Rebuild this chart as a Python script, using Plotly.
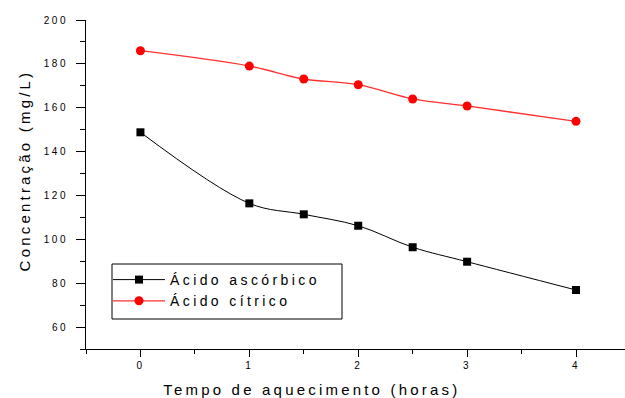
import plotly.graph_objects as go

# ---- data ----
tempo = [0, 1, 1.5, 2, 2.5, 3, 4]
acido_ascorbico = [148.8, 116.4, 111.4, 106.2, 96.4, 89.8, 76.9]
acido_citrico = [186.0, 179.0, 173.1, 170.5, 164.0, 160.8, 153.8]
nome_ascorbico = "Ácido ascórbico"
nome_citrico = "Ácido cítrico"
x_ticks = [0, 1, 2, 3, 4]
y_ticks = [60, 80, 100, 120, 140, 160, 180, 200]
x_title = "Tempo de aquecimento (horas)"
y_title = "Concentração (mg/L)"

FONT = "Liberation Sans, Arial, sans-serif"

fig = go.Figure()
fig.add_trace(go.Scatter(
    x=tempo, y=acido_ascorbico, name=nome_ascorbico, mode="lines+markers",
    line=dict(color="black", width=1, shape="spline", smoothing=1),
    marker=dict(symbol="square", size=8, color="black"),
))
fig.add_trace(go.Scatter(
    x=tempo, y=acido_citrico, name=nome_citrico, mode="lines+markers",
    line=dict(color="#ff3030", width=1.3, shape="spline", smoothing=1),
    marker=dict(symbol="circle", size=9, color="#ff0000"),
))

L, T, B = 86, 20, 49
W, H = 625, 398
pw, ph = W - L, H - T - B

def px(xp):
    return (xp - L) / pw

def py(yp):
    return (H - B - yp) / ph

fig.update_layout(
    width=W, height=H,
    margin=dict(l=L, r=0, t=T, b=B, pad=0),
    paper_bgcolor="white", plot_bgcolor="white",
    font=dict(family=FONT, color="black", size=10),
    showlegend=True,
    legend=dict(
        x=px(108), y=py(264), xanchor="left", yanchor="top",
        bgcolor="rgba(0,0,0,0)", borderwidth=0,
        font=dict(family=FONT, size=14, color="black"),
        itemwidth=52, tracegroupgap=0,
    ),
    xaxis=dict(
        range=[-0.5, 4.45], showgrid=False, zeroline=False,
        showline=True, linecolor="black", linewidth=1, mirror=False,
        ticks="outside", ticklen=7, tickcolor="black", tickwidth=1,
        tickvals=x_ticks, ticktext=[str(v) for v in x_ticks],
        tickfont=dict(family=FONT, size=10, color="black"),
        minor=dict(dtick=0.5, tick0=-0.5, ticks="outside", ticklen=4, tickcolor="black", tickwidth=1),
    ),
    yaxis=dict(
        range=[50, 200], showgrid=False, zeroline=False,
        showline=True, linecolor="black", linewidth=1, mirror=False,
        ticks="outside", ticklen=9, tickcolor="black", tickwidth=1,
        tickvals=y_ticks, ticktext=[str(v) for v in y_ticks],
        tickfont=dict(family=FONT, size=10, color="black"),
        ticklabelstandoff=6,
        minor=dict(dtick=10, tick0=50, ticks="outside", ticklen=5, tickcolor="black", tickwidth=1),
    ),
    shapes=[dict(
        type="rect", xref="paper", yref="paper",
        x0=px(112), x1=px(342), y0=py(319), y1=py(264),
        line=dict(color="black", width=1), fillcolor="rgba(0,0,0,0)", layer="above",
    )],
    annotations=[
        dict(text=x_title, xref="paper", yref="paper", x=px(312), y=py(389),
             xanchor="center", yanchor="middle", showarrow=False,
             font=dict(family=FONT, size=15, color="black")),
        dict(text=y_title, xref="paper", yref="paper", x=px(24), y=py(171),
             xanchor="center", yanchor="middle", showarrow=False, textangle=-90,
             font=dict(family=FONT, size=15, color="black")),
    ],
)

post = """
var gd = document.getElementById('{plot_id}');
function applySpacing(){
  function sp(sel, v){ gd.querySelectorAll(sel).forEach(function(t){ t.style.letterSpacing = v; }); }
  sp('.xtick text', '2.5px');
  sp('.ytick text', '2.5px');
  sp('.legendtext', '3.4px');
  sp('.annotation-text', '3.2px');
  gd.querySelectorAll('.legend [clip-path]').forEach(function(e){ e.removeAttribute('clip-path'); });
  gd.querySelectorAll('.legend').forEach(function(e){ e.style.overflow = 'visible'; });
}
applySpacing();
gd.on && gd.on('plotly_afterplot', applySpacing);
setTimeout(applySpacing, 0);
"""

fig.write_html("out.html", post_script=post)
